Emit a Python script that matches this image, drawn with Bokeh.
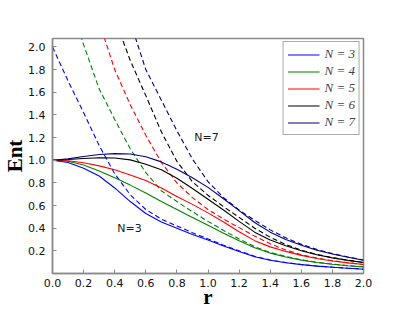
from bokeh.plotting import figure
from bokeh.models import Range1d, FixedTicker, PrintfTickFormatter, Label, Legend, LegendItem
from bokeh.embed import file_html
from bokeh.resources import INLINE

# ---------------- data ----------------
r = [0.0, 0.1, 0.2, 0.3, 0.4, 0.5, 0.6, 0.7, 0.8, 0.9, 1.0,
     1.1, 1.2, 1.3, 1.4, 1.5, 1.6, 1.7, 1.8, 1.9, 2.0]

ent_solid_N3 = [1.000, 0.980, 0.928, 0.860, 0.755, 0.635, 0.530, 0.455, 0.400, 0.345, 0.295,
                0.243, 0.195, 0.148, 0.117, 0.095, 0.078, 0.065, 0.055, 0.046, 0.038]
ent_solid_N4 = [1.000, 0.990, 0.958, 0.905, 0.845, 0.780, 0.710, 0.635, 0.565, 0.495, 0.425,
                0.355, 0.290, 0.228, 0.180, 0.145, 0.118, 0.097, 0.081, 0.068, 0.058]
ent_solid_N5 = [1.000, 0.995, 0.977, 0.950, 0.915, 0.870, 0.820, 0.755, 0.680, 0.610, 0.535,
                0.455, 0.368, 0.290, 0.235, 0.195, 0.160, 0.133, 0.111, 0.094, 0.079]
ent_solid_N6 = [1.000, 1.006, 1.015, 1.022, 1.020, 1.003, 0.965, 0.915, 0.840, 0.750, 0.655,
                0.560, 0.460, 0.365, 0.295, 0.245, 0.200, 0.165, 0.138, 0.116, 0.097]
ent_solid_N7 = [1.000, 1.012, 1.033, 1.050, 1.058, 1.055, 1.030, 0.985, 0.920, 0.845, 0.760,
                0.660, 0.555, 0.450, 0.365, 0.300, 0.250, 0.205, 0.172, 0.143, 0.117]

r_dash_N3 = r
ent_dash_N3 = [2.000, 1.700, 1.420, 1.130, 0.880, 0.695, 0.565, 0.480, 0.420, 0.360, 0.305,
               0.250, 0.200, 0.153, 0.119, 0.097, 0.080, 0.066, 0.056, 0.047, 0.039]
r_dash_N4 = [0.15, 0.2, 0.3, 0.4, 0.5, 0.6, 0.7, 0.8, 0.9, 1.0,
             1.1, 1.2, 1.3, 1.4, 1.5, 1.6, 1.7, 1.8, 1.9, 2.0]
ent_dash_N4 = [2.240, 2.020, 1.630, 1.360, 1.100, 0.890, 0.730, 0.635, 0.545, 0.460,
               0.380, 0.305, 0.237, 0.186, 0.150, 0.121, 0.099, 0.083, 0.069, 0.059]
r_dash_N5 = [0.3, 0.4, 0.5, 0.6, 0.7, 0.8, 0.9, 1.0,
             1.1, 1.2, 1.3, 1.4, 1.5, 1.6, 1.7, 1.8, 1.9, 2.0]
ent_dash_N5 = [2.220, 1.800, 1.490, 1.220, 0.980, 0.800, 0.670, 0.565,
               0.480, 0.405, 0.330, 0.262, 0.208, 0.166, 0.136, 0.113, 0.095, 0.080]
r_dash_N6 = [0.4, 0.5, 0.6, 0.7, 0.8, 0.9, 1.0,
             1.1, 1.2, 1.3, 1.4, 1.5, 1.6, 1.7, 1.8, 1.9, 2.0]
ent_dash_N6 = [2.250, 1.880, 1.570, 1.250, 0.990, 0.810, 0.690,
               0.590, 0.495, 0.400, 0.320, 0.256, 0.205, 0.168, 0.140, 0.117, 0.098]
r_dash_N7 = [0.5, 0.6, 0.7, 0.8, 0.9, 1.0,
             1.1, 1.2, 1.3, 1.4, 1.5, 1.6, 1.7, 1.8, 1.9, 2.0]
ent_dash_N7 = [2.220, 1.800, 1.530, 1.260, 1.010, 0.810,
               0.670, 0.560, 0.470, 0.385, 0.315, 0.258, 0.212, 0.176, 0.146, 0.119]

series_labels = ["N = 3", "N = 4", "N = 5", "N = 6", "N = 7"]
x_ticks = [0.0, 0.2, 0.4, 0.6, 0.8, 1.0, 1.2, 1.4, 1.6, 1.8, 2.0]
y_ticks = [0.2, 0.4, 0.6, 0.8, 1.0, 1.2, 1.4, 1.6, 1.8, 2.0]

# ---------------- figure ----------------
colors = ["#0000ff", "#008000", "#ff0000", "#000000", "#000080"]
AX = "#8a8a8a"

p = figure(width=415, height=313, output_backend="svg", toolbar_location=None,
           x_range=Range1d(0.0, 2.0), y_range=Range1d(0.0, 2.074),
           min_border_left=52, min_border_right=52, min_border_top=38, min_border_bottom=40)
p.grid.visible = False
p.outline_line_color = AX
p.outline_line_width = 1.5
p.background_fill_color = "white"
p.border_fill_color = "white"

for ax, ticks in ((p.xaxis[0], x_ticks), (p.yaxis[0], y_ticks)):
    ax.ticker = FixedTicker(ticks=ticks)
    ax.formatter = PrintfTickFormatter(format="%.1f")
    ax.axis_line_color = AX
    ax.axis_line_width = 1.5
    ax.major_tick_line_color = AX
    ax.major_tick_in = 4
    ax.major_tick_out = 0
    ax.minor_tick_line_color = None
    ax.major_label_text_font = "DejaVu Sans"
    ax.major_label_text_font_size = "11px"
    ax.major_label_text_color = "#111111"
    ax.axis_label_text_font = "Liberation Serif"
    ax.axis_label_text_font_style = "bold"
    ax.axis_label_text_font_size = "21px"
    ax.axis_label_text_color = "#000000"
p.xaxis.major_label_standoff = 5
p.yaxis.major_label_standoff = 7

p.yaxis.axis_label = "Ent"
p.yaxis.axis_label_standoff = -2
p.xaxis.axis_label = "r"
p.xaxis.axis_label_standoff = -5

solids = [ent_solid_N3, ent_solid_N4, ent_solid_N5, ent_solid_N6, ent_solid_N7]
dashes = [(r_dash_N3, ent_dash_N3), (r_dash_N4, ent_dash_N4), (r_dash_N5, ent_dash_N5),
          (r_dash_N6, ent_dash_N6), (r_dash_N7, ent_dash_N7)]

items = []
for i in range(5):
    rd, ed = dashes[i]
    p.line(rd, ed, line_color=colors[i], line_width=1.1, line_dash="5 3")
for i in range(5):
    ln = p.line(r, solids[i], line_color=colors[i], line_width=1.1)
    items.append(LegendItem(label=series_labels[i], renderers=[ln]))

legend = Legend(items=items, location="top_right", margin=3, padding=4, spacing=1,
                glyph_height=13, glyph_width=32, label_height=13, label_standoff=5,
                label_text_font="Liberation Serif", label_text_font_style="italic",
                label_text_font_size="13px", border_line_color="#555555",
                border_line_width=1, background_fill_color="white", background_fill_alpha=1.0)
p.add_layout(legend)

# annotations
p.add_layout(Label(x=0.99, y=1.203, text="N=7", text_align="center", text_baseline="middle",
                   text_font="DejaVu Sans", text_font_size="11px", text_color="#1a1a1a"))
p.add_layout(Label(x=0.495, y=0.394, text="N=3", text_align="center", text_baseline="middle",
                   text_font="DejaVu Sans", text_font_size="11px", text_color="#1a1a1a"))

open("out.html", "w").write(file_html(p, INLINE))
